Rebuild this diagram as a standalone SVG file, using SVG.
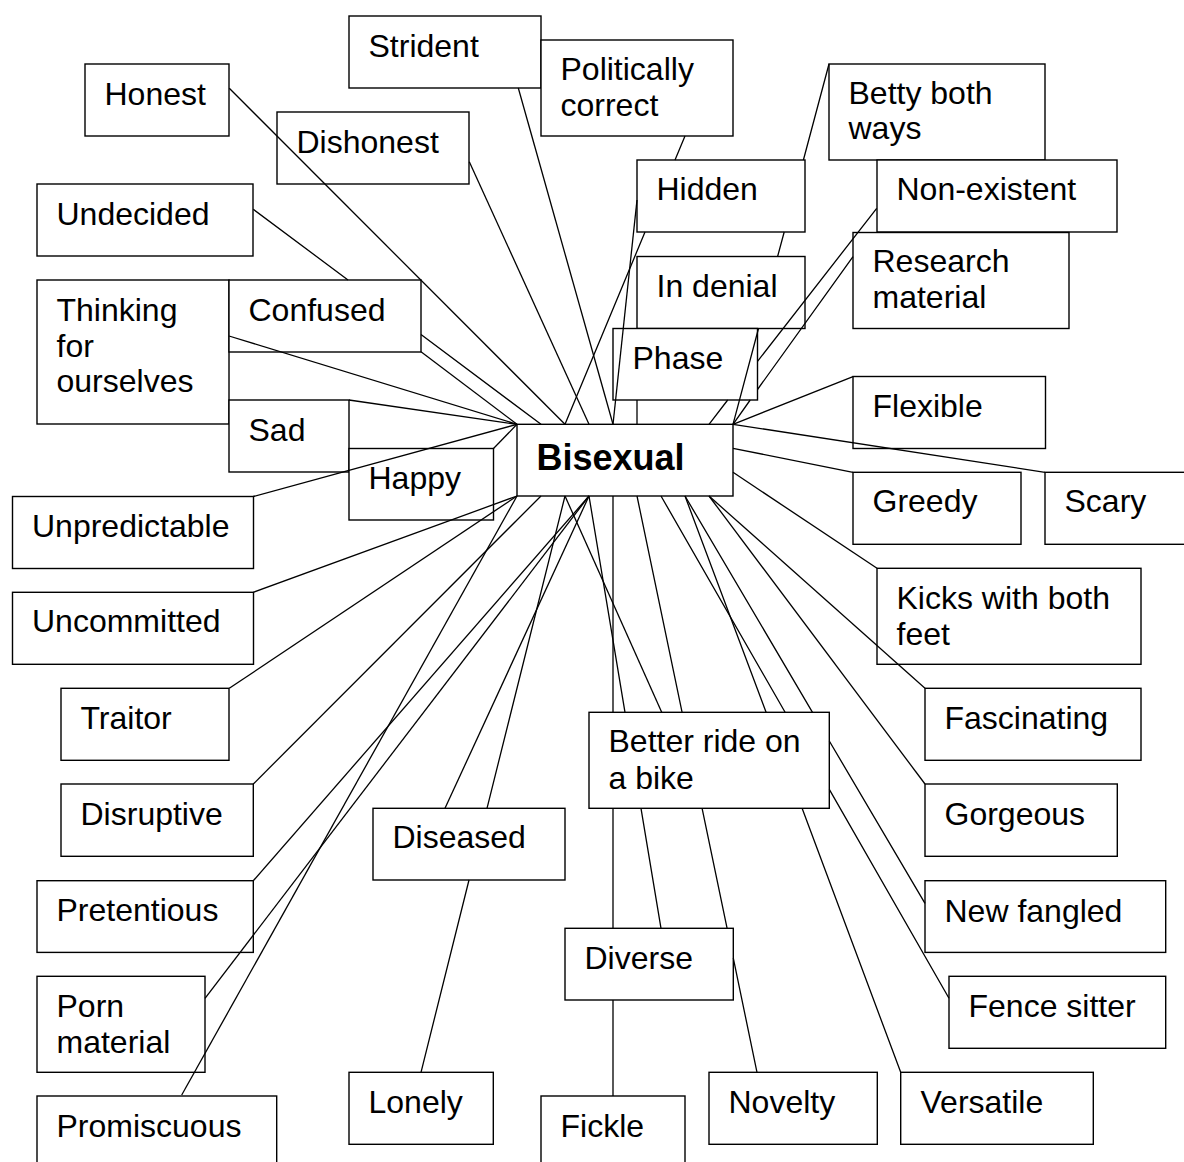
<svg xmlns="http://www.w3.org/2000/svg" width="1184" height="1162" viewBox="0 0 1184 1162">
<style>
.b{fill:#fff;stroke:#000;stroke-width:1.4}
.t{font-family:"Liberation Sans",Arial,sans-serif;font-size:32px;fill:#000}
.bt{font-family:"Liberation Sans",Arial,sans-serif;font-size:36px;font-weight:bold;fill:#000}
.c{stroke:#000;stroke-width:1.3;fill:none}
</style>
<rect width="1184" height="1162" fill="#fff"/>
<g id="nodes">
<g id="n-strident"><rect class="b" x="349" y="16" width="192" height="72"/><text class="t" x="368.5" y="57">Strident</text></g>
<g id="n-politically"><rect class="b" x="541" y="40" width="192" height="96"/><text class="t" x="560.5" y="80">Politically<tspan x="560.5" y="116">correct</tspan></text></g>
<g id="n-honest"><rect class="b" x="85" y="64" width="144" height="72"/><text class="t" x="104.5" y="105">Honest</text></g>
<g id="n-dishonest"><rect class="b" x="277" y="112" width="192" height="72"/><text class="t" x="296.5" y="153">Dishonest</text></g>
<g id="n-betty"><rect class="b" x="829" y="64" width="216" height="96"/><text class="t" x="848.5" y="104">Betty both<tspan x="848.5" y="139">ways</tspan></text></g>
<g id="n-hidden"><rect class="b" x="637" y="160" width="168" height="72"/><text class="t" x="656.5" y="200">Hidden</text></g>
<g id="n-nonexistent"><rect class="b" x="877" y="160" width="240" height="72"/><text class="t" x="896.5" y="200">Non-existent</text></g>
<g id="n-undecided"><rect class="b" x="37" y="184" width="216" height="72"/><text class="t" x="56.5" y="225">Undecided</text></g>
<g id="n-research"><rect class="b" x="853" y="232.5" width="216" height="96"/><text class="t" x="872.5" y="272">Research<tspan x="872.5" y="308">material</tspan></text></g>
<g id="n-indenial"><rect class="b" x="637" y="256.5" width="168" height="72"/><text class="t" x="656.5" y="297">In denial</text></g>
<g id="n-thinking"><rect class="b" x="37" y="280" width="192" height="144"/><text class="t" x="56.5" y="321">Thinking<tspan x="56.5" y="356.5">for</tspan><tspan x="56.5" y="392">ourselves</tspan></text></g>
<g id="n-confused"><rect class="b" x="229" y="280" width="192" height="72"/><text class="t" x="248.5" y="320.5">Confused</text></g>
<g id="n-phase"><rect class="b" x="613" y="328.5" width="144.5" height="71.5"/><text class="t" x="632.5" y="368.5">Phase</text></g>
<g id="n-flexible"><rect class="b" x="853" y="376.5" width="192.5" height="72"/><text class="t" x="872.5" y="416.5">Flexible</text></g>
<g id="n-sad"><rect class="b" x="229" y="400" width="120" height="72"/><text class="t" x="248.5" y="441">Sad</text></g>
<g id="n-happy"><rect class="b" x="349" y="448.5" width="144.5" height="71.5"/><text class="t" x="368.5" y="488.5">Happy</text></g>
<g id="n-bisexual"><rect class="b" x="517" y="424.3" width="216" height="71.7"/><text class="bt" x="536.5" y="470">Bisexual</text></g>
<g id="n-unpredictable"><rect class="b" x="12.5" y="496.5" width="241" height="72"/><text class="t" x="32" y="537">Unpredictable</text></g>
<g id="n-greedy"><rect class="b" x="853" y="472.3" width="168" height="72"/><text class="t" x="872.5" y="512">Greedy</text></g>
<g id="n-scary"><rect class="b" x="1045" y="472.3" width="150" height="72"/><text class="t" x="1064.5" y="512">Scary</text></g>
<g id="n-kicks"><rect class="b" x="877" y="568.3" width="264" height="96"/><text class="t" x="896.5" y="608.5">Kicks with both<tspan x="896.5" y="644.5">feet</tspan></text></g>
<g id="n-uncommitted"><rect class="b" x="12.5" y="592.3" width="241" height="72"/><text class="t" x="32" y="632">Uncommitted</text></g>
<g id="n-traitor"><rect class="b" x="61" y="688.3" width="168" height="72"/><text class="t" x="80.5" y="728.5">Traitor</text></g>
<g id="n-fascinating"><rect class="b" x="925" y="688.3" width="216" height="72"/><text class="t" x="944.5" y="729">Fascinating</text></g>
<g id="n-betterride"><rect class="b" x="589" y="712.3" width="240.3" height="96"/><text class="t" x="608.5" y="752">Better ride on<tspan x="608.5" y="788.5">a bike</tspan></text></g>
<g id="n-disruptive"><rect class="b" x="61" y="784" width="192.3" height="72.3"/><text class="t" x="80.5" y="824.5">Disruptive</text></g>
<g id="n-gorgeous"><rect class="b" x="925" y="784" width="192.3" height="72.3"/><text class="t" x="944.5" y="825">Gorgeous</text></g>
<g id="n-diseased"><rect class="b" x="373" y="808.3" width="192" height="71.7"/><text class="t" x="392.5" y="848">Diseased</text></g>
<g id="n-pretentious"><rect class="b" x="37" y="880.7" width="216.3" height="71.7"/><text class="t" x="56.5" y="920.5">Pretentious</text></g>
<g id="n-newfangled"><rect class="b" x="925" y="880.7" width="240.7" height="71.7"/><text class="t" x="944.5" y="921.5">New fangled</text></g>
<g id="n-diverse"><rect class="b" x="565" y="928.3" width="168.3" height="71.7"/><text class="t" x="584.5" y="968.5">Diverse</text></g>
<g id="n-porn"><rect class="b" x="37" y="976.3" width="168" height="96"/><text class="t" x="56.5" y="1016.5">Porn<tspan x="56.5" y="1052.5">material</tspan></text></g>
<g id="n-fencesitter"><rect class="b" x="949" y="976.3" width="216.7" height="72"/><text class="t" x="968.5" y="1017">Fence sitter</text></g>
<g id="n-lonely"><rect class="b" x="349" y="1072.3" width="144.3" height="72"/><text class="t" x="368.5" y="1113">Lonely</text></g>
<g id="n-novelty"><rect class="b" x="709" y="1072.3" width="168.3" height="72"/><text class="t" x="728.5" y="1113">Novelty</text></g>
<g id="n-versatile"><rect class="b" x="900.7" y="1072.3" width="192.6" height="72"/><text class="t" x="920.5" y="1113">Versatile</text></g>
<g id="n-promiscuous"><rect class="b" x="37" y="1096" width="239.7" height="80"/><text class="t" x="56.5" y="1136.5">Promiscuous</text></g>
<g id="n-fickle"><rect class="b" x="541" y="1096" width="144" height="80"/><text class="t" x="560.5" y="1136.5">Fickle</text></g>
</g>
<g id="connectors" class="c">
<path d="M229.3 88.3L565 424.3"/>
<path d="M469.3 161.7L589 424.3"/>
<path d="M518.3 88L613 424.3"/>
<path d="M685 136L675 160M645 232L565 424.3"/>
<path d="M637 200L613 424.3"/>
<path d="M829 64L803.4 160M784.2 232L777.6 256.5M758.5 328.5L733 424.3"/>
<path d="M637 400L637 424.3"/>
<path d="M876.7 208.3L757.5 361.4M727.7 400L709 424.3"/>
<path d="M853 256.7L757.5 389.5M750.2 400L733 424.3"/>
<path d="M853 376.7L733 424.3"/>
<path d="M1045 472.3L733 424.3"/>
<path d="M853 472.3L733 448.3"/>
<path d="M877 568.3L733 472.3"/>
<path d="M925 688.3L709 496"/>
<path d="M925 784L709 496"/>
<path d="M685 496L812.5 712.3M829.3 741L925 903.3"/>
<path d="M661 496L785.1 712.3M829.3 789.4L949 998.3"/>
<path d="M685 496L766.1 712.3M802.1 808.3L900.7 1072.3"/>
<path d="M637 496L682.1 712.3M702.1 808.3L727.1 928.3M733.3 958.2L757 1072.3"/>
<path d="M589 496L625 712.3M641 808.3L661 928.3"/>
<path d="M565 496L661.7 712.3"/>
<path d="M613 496L613 712.3M613 808.3L613 928.3M613 1000L613 1096"/>
<path d="M565 496L487 808.3M469 880L421 1072.3"/>
<path d="M589 496L445 808.3"/>
<path d="M181.7 1095L517 496"/>
<path d="M205 998.3L589 496"/>
<path d="M253.3 880.7L589 496"/>
<path d="M253.3 784L541 496"/>
<path d="M229.3 688.3L517 496"/>
<path d="M253.3 592.3L517 496"/>
<path d="M253.3 496.5L517 424.3"/>
<path d="M493.5 448.5L517 424.3"/>
<path d="M349 400L517 424.3"/>
<path d="M229 336L517 424.3"/>
<path d="M421 351.7L517 424.3"/>
<path d="M253.3 209.3L348 280M421 334.5L541 424.3"/>
</g>
</svg>
